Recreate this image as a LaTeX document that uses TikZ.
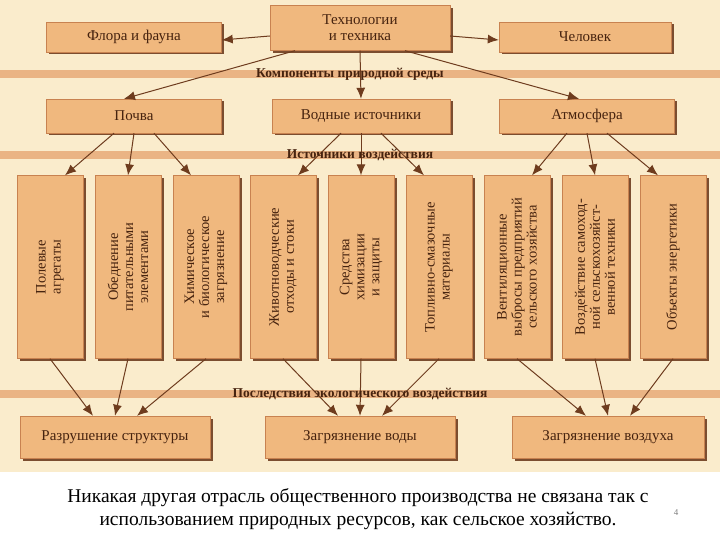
\documentclass[tikz,border=0pt]{standalone}
\usepackage{fontspec}
\setmainfont{Liberation Serif}
\usetikzlibrary{arrows.meta,shadows}
\definecolor{bg}{RGB}{250,236,204}
\definecolor{boxc}{RGB}{240,184,126}
\definecolor{boxd}{RGB}{200,130,80}
\definecolor{shad}{RGB}{110,60,30}
\definecolor{band}{RGB}{234,180,132}
\definecolor{txt}{RGB}{70,35,15}
\tikzset{
  bx/.style={draw=boxd, fill=boxc, text=txt, font=\fontsize{15}{16}\selectfont, align=center,
    inner sep=0pt, drop shadow={shadow xshift=2.5pt, shadow yshift=-2.5pt, fill=shad, opacity=0.9}},
  vbx/.style={bx, rotate=90, font=\fontsize{14.5}{15}\selectfont},
  bandlbl/.style={text=txt, font=\bfseries\fontsize{13.5}{14}\selectfont, inner sep=1pt},
  arr/.style={draw=shad, line width=1pt, -{Latex[length=11pt,width=9pt]}}
}
\begin{document}
\begin{tikzpicture}[x=1pt,y=-1pt]
\useasboundingbox (0,0) rectangle (720,540);
\fill[bg] (0,0) rectangle (720,472);
\fill[white] (0,472) rectangle (720,540);
% bands
\fill[band] (0,70) rectangle (720,78);
\fill[band] (0,151) rectangle (720,159);
\fill[band] (0,390) rectangle (720,398);
% top row
\node[bx, minimum width=175, minimum height=30] (ff) at (134,37) {Флора и фауна};
\node[bx, minimum width=180, minimum height=45] (tt) at (360,28) {Технологии\\и техника};
\node[bx, minimum width=172, minimum height=30] (ch) at (585,37) {Человек};
% second row
\node[bx, minimum width=175, minimum height=34] (po) at (134,116) {Почва};
\node[bx, minimum width=178, minimum height=34] (vi) at (361,116) {Водные источники};
\node[bx, minimum width=175, minimum height=34] (at) at (587,116) {Атмосфера};
% vertical boxes
\foreach \n/\x/\t in {
 v1/50/{Полевые\\агрегаты},
 v2/128/{Обеднение\\питательными\\элементами},
 v3/206/{Химическое\\и биологическое\\загрязнение},
 v4/283/{Животноводческие\\отходы и стоки},
 v5/361/{Средства\\химизации\\и защиты},
 v6/439/{Топливно-смазочные\\материалы},
 v7/517/{Вентиляционные\\выбросы предприятий\\сельского хозяйства},
 v8/595/{Воздействие самоход-\\ной сельскохозяйст-\\венной техники},
 v9/673/{Объекты энергетики}}
 {\node[vbx, minimum width=183, minimum height=66] (\n) at (\x,267) {\t};}
% bottom row
\node[bx, minimum width=190, minimum height=42] (r1) at (115,437) {Разрушение структуры};
\node[bx, minimum width=190, minimum height=42] (r2) at (360,437) {Загрязнение воды};
\node[bx, minimum width=192, minimum height=42] (r3) at (608,437) {Загрязнение воздуха};
% arrows top
\draw[arr] ([yshift=-8]tt.west) -- ([yshift=-3]ff.east);
\draw[arr] ([yshift=-8]tt.east) -- ([yshift=-3]ch.west);
\draw[arr] ([xshift=-65]tt.south) -- ([xshift=-10]po.north);
\draw[arr] (tt.south) -- (vi.north);
\draw[arr] ([xshift=45]tt.south) -- ([xshift=-8]at.north);
% second row to vertical
\foreach \s/\a/\b/\c in {po/v1/v2/v3, vi/v4/v5/v6, at/v7/v8/v9}{
  \draw[arr] ([xshift=-20]\s.south) -- ([xshift=15]\a.east);
  \draw[arr] (\s.south) -- (\b.east);
  \draw[arr] ([xshift=20]\s.south) -- ([xshift=-15]\c.east);
}
% vertical to bottom
\foreach \a/\b/\c/\r in {v1/v2/v3/r1, v4/v5/v6/r2, v7/v8/v9/r3}{
  \draw[arr] (\a.west) -- ([xshift=-22]\r.north);
  \draw[arr] (\b.west) -- (\r.north);
  \draw[arr] (\c.west) -- ([xshift=22]\r.north);
}
% band labels
\node[bandlbl] (b1) at (350,74) {Компоненты природной среды};
\node[bandlbl] (b2) at (360,155) {Источники воздействия};
\node[bandlbl] (b3) at (360,394) {Последствия экологического воздействия};
% caption
\node[font=\fontsize{19.5}{23}\selectfont, align=center, text=black] (cap) at (358,509)
 {Никакая другая отрасль общественного производства не связана так с\\использованием природных ресурсов, как сельское хозяйство.};
\node[font=\fontsize{9}{9}\selectfont, text=gray] (pg) at (676,513) {4};
\end{tikzpicture}
\end{document}
